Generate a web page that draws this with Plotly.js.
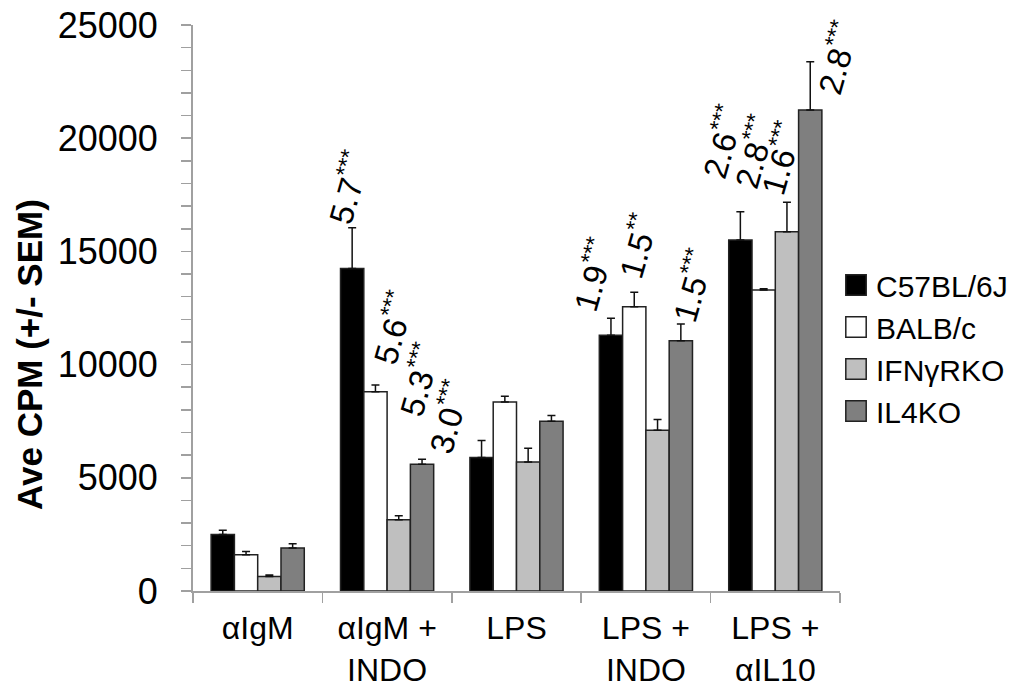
<!DOCTYPE html>
<html>
<head>
<meta charset="utf-8">
<script src="https://cdn.plot.ly/plotly-3.0.1.min.js"></script>
<style>html,body{margin:0;padding:0;background:#fff;}</style>
</head>
<body>
<div id="chart" style="width:1017px;height:698px;"></div>
<script>
// ---- data ----
const categories = ['αIgM', 'αIgM +<br>INDO', 'LPS', 'LPS +<br>INDO', 'LPS +<br>αIL10'];
const seriesNames = ['C57BL/6J', 'BALB/c', 'IFNγRKO', 'IL4KO'];

const c57Values  = [2500, 14250, 5900, 11300, 15500];
const c57Err     = [180, 1800, 750, 750, 1250];
const balbValues = [1600, 8800, 8350, 12550, 13300];
const balbErr    = [150, 300, 250, 650, 50];
const ifngValues = [640, 3150, 5700, 7100, 15870];
const ifngErr    = [70, 170, 600, 480, 1300];
const il4Values  = [1900, 5600, 7500, 11050, 21250];
const il4Err     = [190, 220, 250, 740, 2130];

// fold-change labels above bars
const c57Labels  = ['', '5.7***', '', '1.9***', '2.6***'];
const balbLabels = ['', '5.6***', '', '1.5**', '2.8***'];
const ifngLabels = ['', '5.3***', '', '', '1.6***'];
const il4Labels  = ['', '3.0***', '', '1.5***', '2.8***'];

const yTickVals = [0, 5000, 10000, 15000, 20000, 25000];
const yTickText = ['0', '5000', '10000', '15000', '20000', '25000'];
const yTitle = 'Ave CPM (+/- SEM)';

// ---- styling ----
const FONT = 'Liberation Sans, Arial, Helvetica, sans-serif';
const fills = ['#000000', '#ffffff', '#bfbfbf', '#7f7f7f'];
const values = [c57Values, balbValues, ifngValues, il4Values];
const errs = [c57Err, balbErr, ifngErr, il4Err];
const labels = [c57Labels, balbLabels, ifngLabels, il4Labels];

// label placement offsets (px): [dx from group centre, dy above error cap]
const labelOffsets = [
  [null, [-40, 40], null, [-53, 44], [-54, 70]],
  [null, [5, 57],   null, [-9, 46],  [-22, 137]],
  [null, [31, 136], null, null,      [5, 44]],
  [null, [61, 42],  null, [46, 39],  [61, 4]]
];

const traces = seriesNames.map((name, i) => ({
  type: 'bar',
  name: name,
  x: categories,
  y: values[i],
  marker: { color: fills[i], line: { color: '#222222', width: 1.5 } },
  error_y: {
    type: 'data', symmetric: false,
    array: errs[i], arrayminus: errs[i].map(() => 0),
    color: '#111111', thickness: 1.5, width: 4
  }
}));

const annotations = [];
labels.forEach((arr, i) => {
  arr.forEach((txt, j) => {
    if (!txt) return;
    const m = txt.match(/^([\d.]+)(\*+)$/);
    const off = labelOffsets[i][j];
    annotations.push({
      xref: 'x', yref: 'y',
      x: categories[j], y: values[i][j] + errs[i][j],
      xshift: off[0], yshift: off[1],
      text: m[1] + '<sup>' + m[2] + '</sup>',
      textangle: -74,
      showarrow: false,
      xanchor: 'center', yanchor: 'middle',
      font: { family: FONT, size: 33, color: '#000' }
    });
  });
});

// y-axis title drawn as an annotation so it can sit where the reference has it
annotations.push({
  xref: 'paper', yref: 'paper',
  x: (30 - 193) / (840 - 193), y: (591 - 355) / (591 - 25),
  xanchor: 'center', yanchor: 'middle',
  text: '<b>' + yTitle + '</b>', textangle: -90, showarrow: false,
  font: { family: FONT, size: 35, color: '#000' }
});

const layout = {
  width: 1017, height: 698,
  margin: { l: 193, r: 177, t: 25, b: 107, pad: 0, autoexpand: false },
  paper_bgcolor: '#ffffff', plot_bgcolor: '#ffffff',
  barmode: 'group', bargap: 0.28, bargroupgap: 0,
  font: { family: FONT, color: '#000' },
  showlegend: true,
  legend: {
    x: 836 / 1017, xanchor: 'left',
    y: 1 - 348 / 698, yanchor: 'middle', yref: 'container', xref: 'container',
    font: { family: FONT, size: 30, color: '#000' },
    bgcolor: 'rgba(0,0,0,0)', borderwidth: 0
  },
  xaxis: {
    type: 'category',
    range: [-0.5, categories.length - 0.5],
    tickson: 'boundaries',
    ticks: 'outside', ticklen: 10, tickwidth: 1.5, tickcolor: '#a0a0a0',
    showline: true, linecolor: '#a0a0a0', linewidth: 2,
    showgrid: false, zeroline: false,
    tickfont: { family: FONT, size: 32, color: '#000' },
    ticklabelstandoff: 8,
    automargin: false,
    fixedrange: true
  },
  yaxis: {
    range: [0, 25000],
    tickvals: yTickVals, ticktext: yTickText,
    ticks: 'outside', ticklen: 10, tickwidth: 1.5, tickcolor: '#a0a0a0',
    minor: { dtick: 1000, ticks: 'outside', ticklen: 10, tickwidth: 1.5, tickcolor: '#a0a0a0', showgrid: false },
    showline: true, linecolor: '#a0a0a0', linewidth: 2,
    showgrid: false, zeroline: false,
    tickfont: { family: FONT, size: 36, color: '#000' },
    ticklabelstandoff: 16,
    automargin: false,
    fixedrange: true
  },
  annotations: annotations
};

Plotly.newPlot('chart', traces, layout, { staticPlot: true, displayModeBar: false }).then(() => {
  document.querySelectorAll('#chart .legendpoints path').forEach(p => {
    const t = p.getAttribute('transform') || '';
    p.setAttribute('transform', t + ' scale(1.7)');
    p.setAttribute('vector-effect', 'non-scaling-stroke');
  });
});
</script>
</body>
</html>
